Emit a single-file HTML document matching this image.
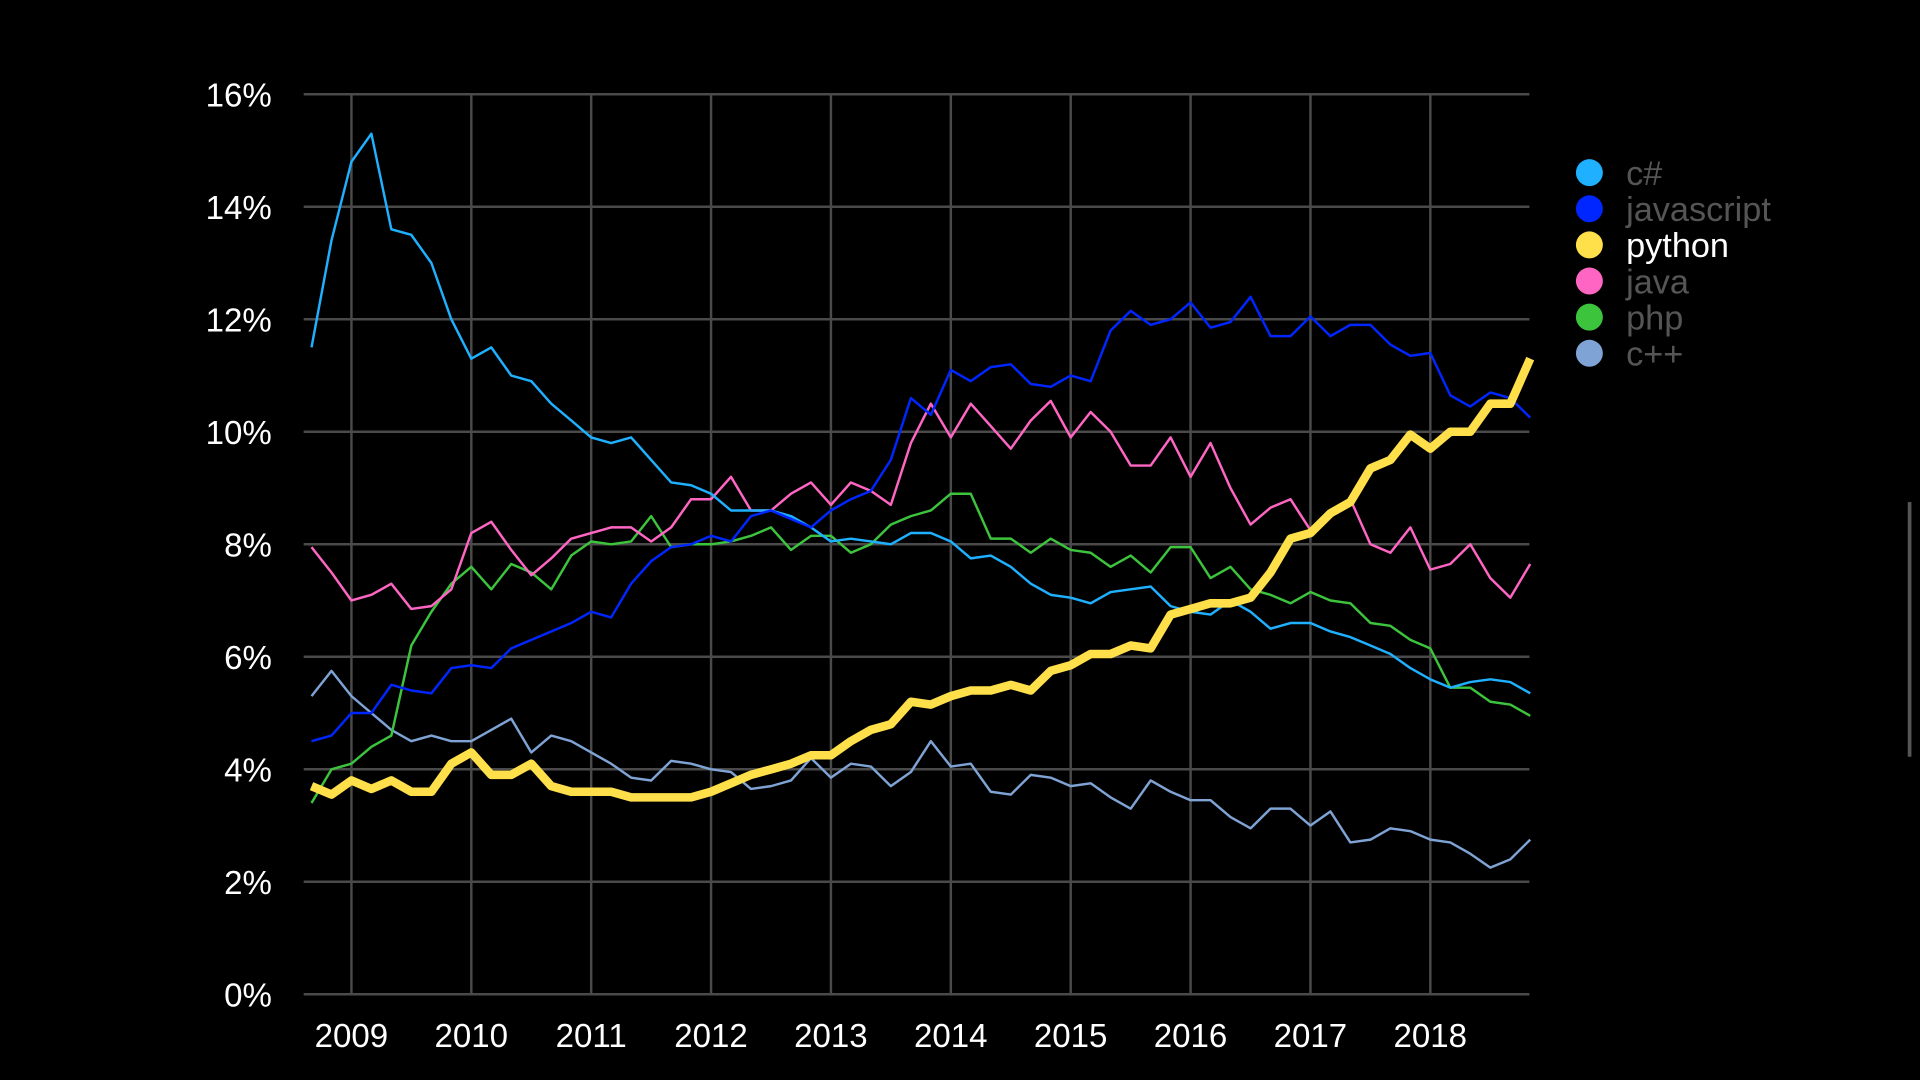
<!DOCTYPE html>
<html><head><meta charset="utf-8"><style>
html,body{margin:0;padding:0;background:#000;width:1920px;height:1080px;overflow:hidden}
svg{display:block}
text{font-family:"Liberation Sans","DejaVu Sans",sans-serif}
</style></head><body>
<svg id="chart" width="1920" height="1080" viewBox="0 0 1568 882" preserveAspectRatio="none">
<rect width="1568" height="882" fill="#000"/>
<g id="grid"></g>
<g id="axes"></g>
<g id="series"></g>
<g id="legend"></g>
<rect x="1558" y="410" width="3" height="208" fill="#555"/>
</svg>
<script>
const yTicks=[0,2,4,6,8,10,12,14,16];
const yTickLabels=["0%","2%","4%","6%","8%","10%","12%","14%","16%"];
const years=[2009,2010,2011,2012,2013,2014,2015,2016,2017,2018];
const startYear=2008+8/12;
const stepMonths=2;
const seriesNames=["c#","javascript","python","java","php","c++"];
const csharp=[11.5,13.4,14.8,15.3,13.6,13.5,13.0,12.0,11.3,11.5,11.0,10.9,10.5,10.2,9.9,9.8,9.9,9.5,9.1,9.05,8.9,8.6,8.6,8.6,8.5,8.3,8.05,8.1,8.05,8.0,8.2,8.2,8.05,7.75,7.8,7.6,7.3,7.1,7.05,6.95,7.15,7.2,7.25,6.9,6.8,6.75,7.0,6.8,6.5,6.6,6.6,6.45,6.35,6.2,6.05,5.8,5.6,5.45,5.55,5.6,5.55,5.35];
const javascript=[4.5,4.6,5.0,5.0,5.5,5.4,5.35,5.8,5.85,5.8,6.15,6.3,6.45,6.6,6.8,6.7,7.3,7.7,7.95,8.0,8.15,8.05,8.5,8.6,8.45,8.3,8.6,8.8,8.95,9.5,10.6,10.3,11.1,10.9,11.15,11.2,10.85,10.8,11.0,10.9,11.8,12.15,11.9,12.0,12.3,11.85,11.95,12.4,11.7,11.7,12.05,11.7,11.9,11.9,11.55,11.35,11.4,10.65,10.45,10.7,10.6,10.25];
const python=[3.7,3.55,3.8,3.65,3.8,3.6,3.6,4.1,4.3,3.9,3.9,4.1,3.7,3.6,3.6,3.6,3.5,3.5,3.5,3.5,3.6,3.75,3.9,4.0,4.1,4.25,4.25,4.5,4.7,4.8,5.2,5.15,5.3,5.4,5.4,5.5,5.4,5.75,5.85,6.05,6.05,6.2,6.15,6.75,6.85,6.95,6.95,7.05,7.5,8.1,8.2,8.55,8.75,9.35,9.5,9.95,9.7,10.0,10.0,10.5,10.5,11.3];
const java=[7.95,7.5,7.0,7.1,7.3,6.85,6.9,7.2,8.2,8.4,7.9,7.45,7.75,8.1,8.2,8.3,8.3,8.05,8.3,8.8,8.8,9.2,8.6,8.6,8.9,9.1,8.7,9.1,8.95,8.7,9.8,10.5,9.9,10.5,10.1,9.7,10.2,10.55,9.9,10.35,10.0,9.4,9.4,9.9,9.2,9.8,9.0,8.35,8.65,8.8,8.25,8.55,8.8,8.0,7.85,8.3,7.55,7.65,8.0,7.4,7.05,7.65];
const php=[3.4,4.0,4.1,4.4,4.6,6.2,6.8,7.3,7.6,7.2,7.65,7.5,7.2,7.8,8.05,8.0,8.05,8.5,7.95,8.0,8.0,8.05,8.15,8.3,7.9,8.15,8.15,7.85,8.0,8.35,8.5,8.6,8.9,8.9,8.1,8.1,7.85,8.1,7.9,7.85,7.6,7.8,7.5,7.95,7.95,7.4,7.6,7.2,7.1,6.95,7.15,7.0,6.95,6.6,6.55,6.3,6.15,5.45,5.45,5.2,5.15,4.95];
const cpp=[5.3,5.75,5.3,5.0,4.7,4.5,4.6,4.5,4.5,4.7,4.9,4.3,4.6,4.5,4.3,4.1,3.85,3.8,4.15,4.1,4.0,3.95,3.65,3.7,3.8,4.2,3.85,4.1,4.05,3.7,3.95,4.5,4.05,4.1,3.6,3.55,3.9,3.85,3.7,3.75,3.5,3.3,3.8,3.6,3.45,3.45,3.15,2.95,3.3,3.3,3.0,3.25,2.7,2.75,2.95,2.9,2.75,2.7,2.5,2.25,2.4,2.75];
const seriesData=[csharp,javascript,python,java,php,cpp];
const colors=["#1fb0ff","#0026ff","#ffdf4a","#ff66c4","#3dc43d","#7ea3d4"];
const widths=[2,2,7,2,2,2];
const NS="http://www.w3.org/2000/svg";
const X0=248,X1=1249,Y0=812,Y16=77;
function xYear(y){return 287+(y-2009)*97.9;}
function xIdx(i){return xYear(startYear+i*stepMonths/12);}
function yVal(v){return Y0-(v/16)*(Y0-Y16);}
function mk(tag,attrs,parent){const e=document.createElementNS(NS,tag);for(const k in attrs)e.setAttribute(k,attrs[k]);parent.appendChild(e);return e;}
const grid=document.getElementById('grid'),axes=document.getElementById('axes'),ser=document.getElementById('series'),leg=document.getElementById('legend');
yTicks.forEach((t,i)=>{
  const l=mk('line',{x1:X0,x2:X1,y1:yVal(t),y2:yVal(t),stroke:'#4a4a4a','stroke-width':2},grid);
  
  
  const tx=mk('text',{x:222,y:yVal(t)+10,'text-anchor':'end',fill:'#fff','font-size':27},axes);
  tx.textContent=yTickLabels[i];
  
  
});
years.forEach(y=>{
  const l=mk('line',{x1:xYear(y),x2:xYear(y),y1:Y16,y2:Y0,stroke:'#4a4a4a','stroke-width':2},grid);
  
  
  const tx=mk('text',{x:xYear(y),y:855,'text-anchor':'middle',fill:'#fff','font-size':27},axes);
  tx.textContent=String(y);
  
  
});
const order=[5,4,3,0,1,2];
order.forEach(s=>{
  const d=seriesData[s].map((v,i)=>(i?'L':'M')+xIdx(i).toFixed(1)+','+yVal(v).toFixed(1)).join(' ');
  const p=mk('path',{d:d,fill:'none',stroke:colors[s],'stroke-width':widths[s],'stroke-linejoin':'round'},ser);
  
  
});
seriesNames.forEach((n,i)=>{
  const y=141+i*29.5;
  const c=mk('circle',{cx:1298,cy:y,r:11,fill:colors[i]},leg);
  
  
  const t=mk('text',{x:1328,y:y+10,fill:n==='python'?'#fff':'#555','font-size':28},leg);
  t.textContent=n;
  
  
});
</script>
</body></html>
